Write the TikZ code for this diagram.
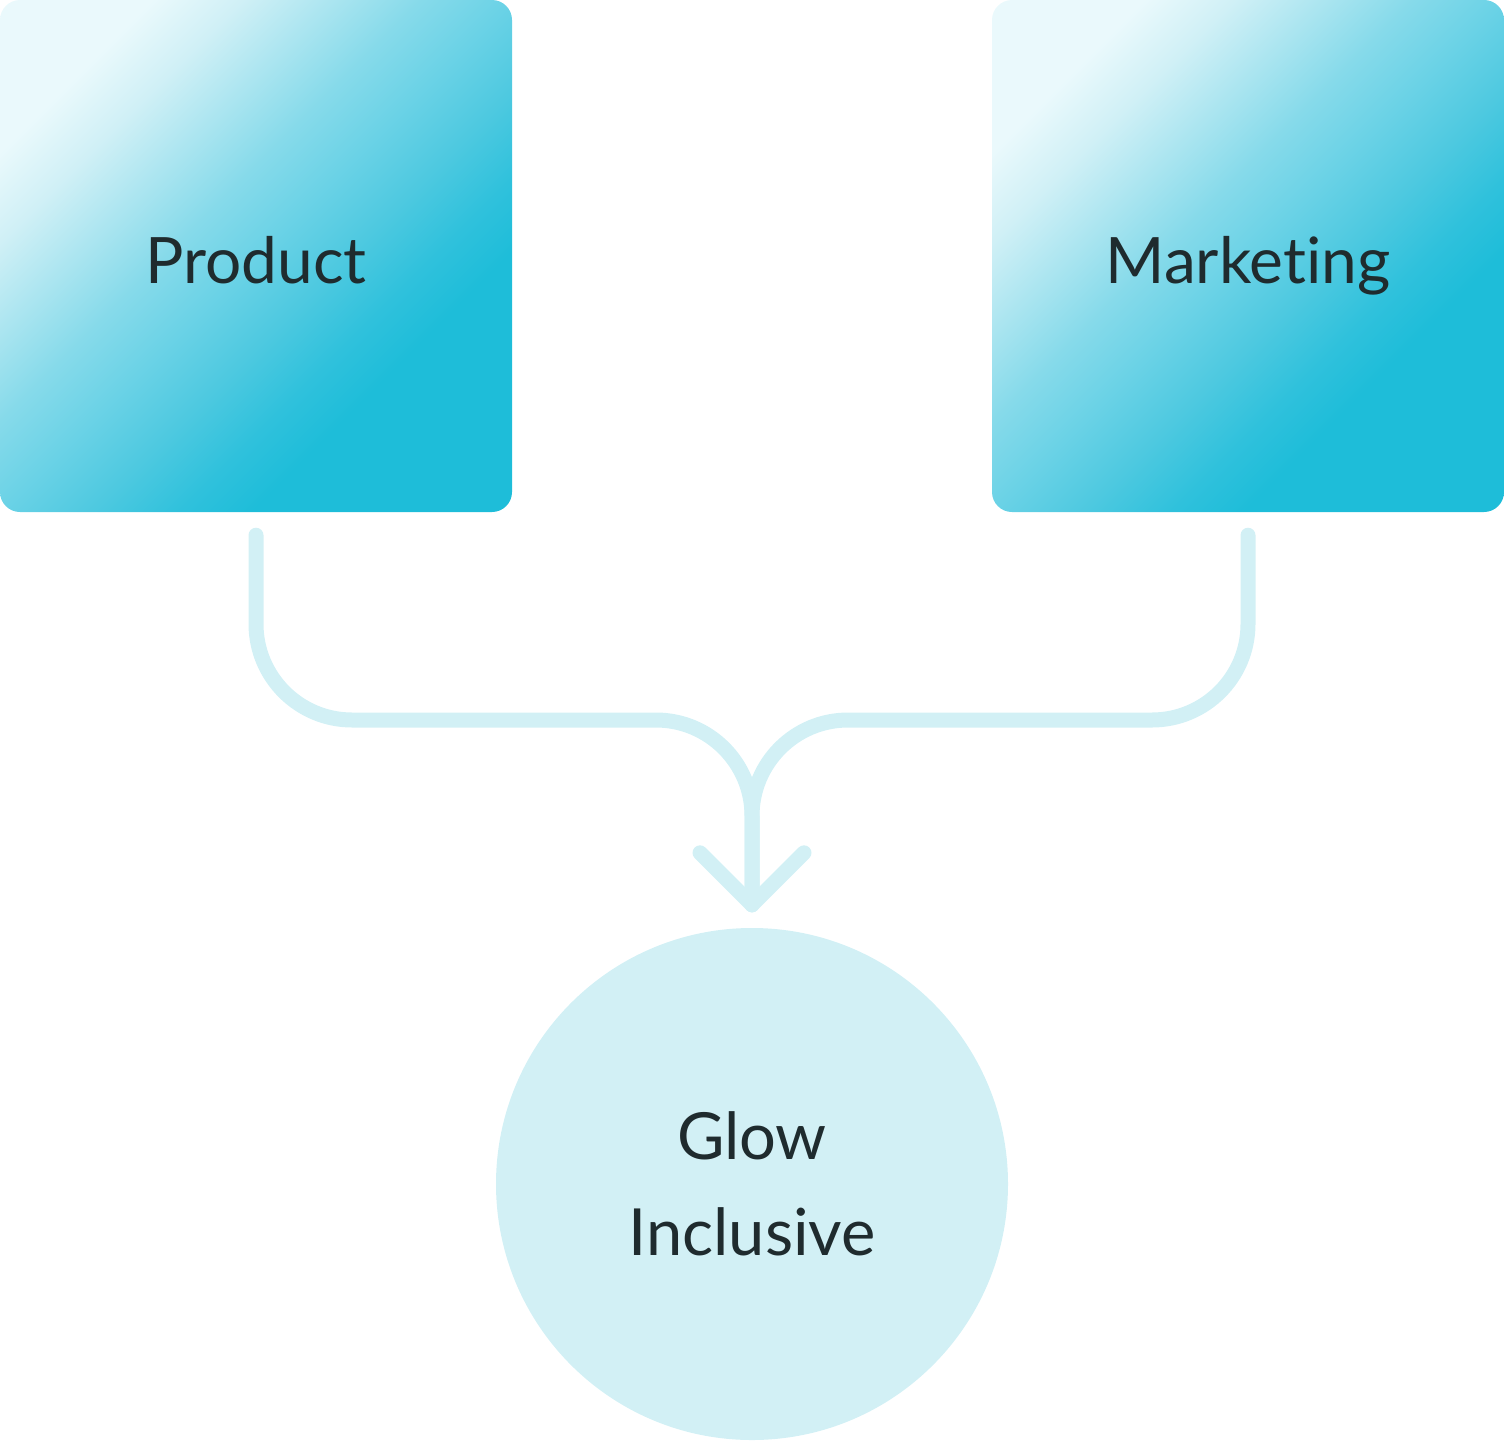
\documentclass[tikz,border=0pt]{standalone}
\usepackage{fontspec}
\setmainfont[Ligatures={NoCommon,NoRequired,NoContextual}]{Lato}
\usetikzlibrary{calc}
\definecolor{g0}{HTML}{EAF9FC}
\definecolor{g1}{HTML}{D0F0F6}
\definecolor{g2}{HTML}{ABE5F0}
\definecolor{g3}{HTML}{86DAEA}
\definecolor{g4}{HTML}{6AD2E6}
\definecolor{g5}{HTML}{4EC9E0}
\definecolor{g6}{HTML}{2FC1DC}
\definecolor{g7}{HTML}{1EBDD9}
\definecolor{pale}{HTML}{D2F0F5}
\definecolor{ink}{HTML}{1F2B2E}
\pgfdeclareverticalshading{boxgrad}{100bp}{color(0bp)=(g7); color(32.5bp)=(g7); color(37.5bp)=(g6); color(43.75bp)=(g5); color(50bp)=(g4); color(56.25bp)=(g3); color(62.5bp)=(g2); color(68.75bp)=(g1); color(75bp)=(g0); color(100bp)=(g0)}
\tikzset{
  gradbox/.style={rectangle, rounded corners=20pt, minimum width=512pt, minimum height=512pt, inner sep=0pt, shading=boxgrad, shading angle=45, text=ink, text height=54pt, text depth=0pt, font=\fontsize{64}{80}\selectfont},
  hub/.style={circle, fill=pale, minimum size=512pt, inner sep=0pt, text=ink, align=center, font=\fontsize{65}{96}\selectfont},
  flow/.style={draw=pale, line width=15pt, line cap=round, line join=round},
}
\begin{document}
\begin{tikzpicture}[x=1pt,y=-1pt]
\useasboundingbox (0,0) rectangle (1504,1440);
\node[gradbox] (prod) at (256,256) {Product};
\node[gradbox] (mkt) at (1248,256) {Marketing};
\node[hub] (glow) at (752,1184) {Glow\\Inclusive};
\coordinate (tip) at ($(glow.north)+(0,-23)$);
\coordinate (ps) at ($(prod.south)+(0,23)$);
\coordinate (ms) at ($(mkt.south)+(0,23)$);
\coordinate (pj) at (ps |- 0,720);
\coordinate (mj) at (ms |- 0,720);
\coordinate (mid) at (tip |- 0,720);
\draw[flow, rounded corners=96pt] (ps) -- (pj) -- (mid) -- (tip);
\draw[flow, rounded corners=96pt] (ms) -- (mj) -- (mid) -- (tip);
\draw[flow] ($(tip)+(-52,-52)$) -- (tip) -- ($(tip)+(52,-52)$);
\end{tikzpicture}
\end{document}
